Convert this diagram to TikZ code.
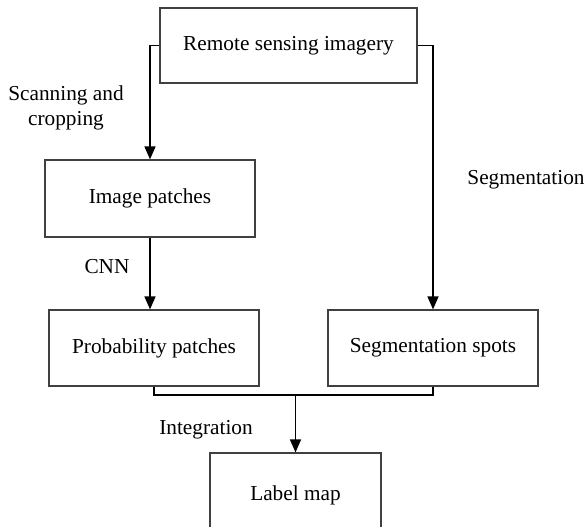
\documentclass[tikz,border=0pt]{standalone}
\usepackage{fontspec}
\setmainfont{Liberation Serif}
\usetikzlibrary{arrows.meta}
\begin{document}
\begin{tikzpicture}[x=1pt,y=-1pt,
  box/.style={draw=black!75,line width=1.2pt,fill=white,inner sep=0pt,
    font=\fontsize{21.3}{24}\selectfont},
  lbl/.style={font=\fontsize{21.3}{25}\selectfont,inner sep=0pt,align=center},
  flow/.style={line width=1.5pt,black},
  arr/.style={flow,-{Triangle[width=11pt,length=13pt]}}]
  \clip (0,0) rectangle (587,527);
  \fill[white] (0,0) rectangle (587,527);

  % process boxes
  \node[box,minimum width=257pt,minimum height=75pt] (remote) at (288.5,45.5) {Remote sensing imagery};
  \node[box,minimum width=210pt,minimum height=77pt] (img) at (150,198.5) {Image patches};
  \node[box,minimum width=210pt,minimum height=76pt] (prob) at (154,348) {Probability patches};
  \node[box,minimum width=210pt,minimum height=76pt] (seg) at (433,348) {Segmentation spots};
  \node[box,minimum width=171pt,minimum height=80pt,text depth=0pt] (lmap) at (295.5,493) {Label map};

  % step labels
  \node[lbl] (scan) at (66,108) {Scanning and\\cropping};
  \node[lbl] (cnn) at (107,267) {CNN};
  \node[lbl] (segl) at (526,180) {Segmentation};
  \node[lbl] (integ) at (206,430) {Integration};

  % connectors
  \draw[arr] (remote.west) -| (img.north);
  \draw[arr] (remote.east) -| (seg.north);
  \draw[arr] (img.south) -- (img.south |- prob.north);
  \coordinate (join) at (295.5,395);
  \draw[flow] (prob.south) |- (join) -| (seg.south);
  \draw[arr] (join) -- (lmap.north);
\end{tikzpicture}
\end{document}
